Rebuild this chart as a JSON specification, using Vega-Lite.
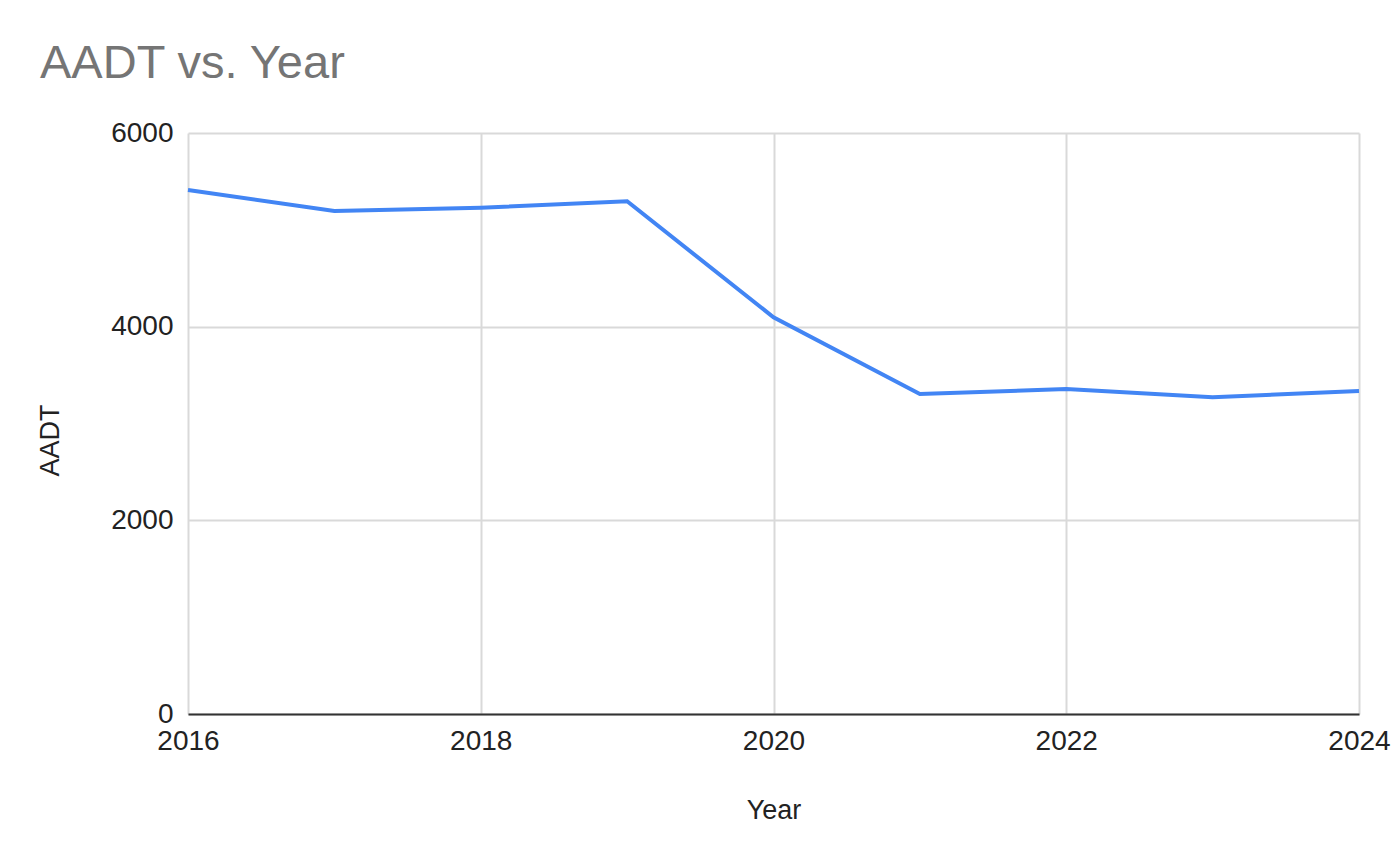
{
  "$schema": "https://vega.github.io/schema/vega-lite/v6.json",
  "autosize": {"type": "none"},
  "width": 1171,
  "height": 581,
  "padding": {"left": 188, "top": 133, "right": 40, "bottom": 152},
  "background": "white",
  "config": {
    "font": "Liberation Sans",
    "view": {"stroke": null}
  },
  "title": {
    "text": "AADT vs. Year",
    "anchor": "start",
    "frame": "group",
    "dx": -148,
    "offset": -6,
    "baseline": "alphabetic",
    "fontSize": 47,
    "fontWeight": "normal",
    "color": "#757575"
  },
  "data": {
    "values": [
      {"Year": 2016, "AADT": 5411},
      {"Year": 2017, "AADT": 5194},
      {"Year": 2018, "AADT": 5229},
      {"Year": 2019, "AADT": 5295},
      {"Year": 2020, "AADT": 4097},
      {"Year": 2021, "AADT": 3305},
      {"Year": 2022, "AADT": 3356},
      {"Year": 2023, "AADT": 3271},
      {"Year": 2024, "AADT": 3336}
    ]
  },
  "mark": {"type": "line", "color": "#4285F4", "strokeWidth": 4},
  "encoding": {
    "x": {
      "field": "Year",
      "type": "quantitative",
      "scale": {"domain": [2016, 2024], "nice": false, "zero": false},
      "axis": {
        "values": [2016, 2018, 2020, 2022, 2024],
        "format": "d",
        "labelFontSize": 28,
        "labelColor": "#222222",
        "labelPadding": 13,
        "labelFlush": false,
        "ticks": false,
        "domain": true,
        "domainColor": "#333333",
        "domainWidth": 2,
        "grid": true,
        "gridColor": "#d9d9d9",
        "gridWidth": 2,
        "title": "Year",
        "titleFontSize": 27,
        "titleFontWeight": "normal",
        "titleColor": "#222222",
        "titlePadding": 42
      }
    },
    "y": {
      "field": "AADT",
      "type": "quantitative",
      "scale": {"domain": [0, 6000], "nice": false},
      "axis": {
        "values": [0, 2000, 4000, 6000],
        "format": "d",
        "labelFontSize": 28,
        "labelColor": "#222222",
        "labelPadding": 15,
        "ticks": false,
        "domain": false,
        "grid": true,
        "gridColor": "#d9d9d9",
        "gridWidth": 2,
        "title": "AADT",
        "titleFontSize": 27,
        "titleFontWeight": "normal",
        "titleColor": "#222222",
        "titlePadding": 46,
        "titleY": 307
      }
    }
  }
}
